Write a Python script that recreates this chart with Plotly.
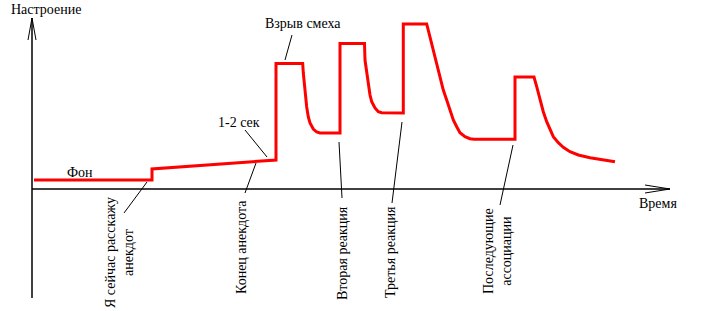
import plotly.graph_objects as go

# Mood curve (time, mood), origin at the axes' crossing
time = [2, 120, 120, 244, 244, 270.7, 271.3, 273, 274.7, 276.3, 278, 281.3, 284.7, 288, 308,
        308, 332.5, 333, 334.7, 336.3, 338, 339.7, 343, 346.3, 349.7, 371.3,
        371.3, 394.7, 398, 401.3, 404.7, 408, 411.3, 414.7, 418, 421.3, 424.7, 428, 433, 438, 442, 483,
        483, 502, 504.7, 508, 511.3, 514.7, 518, 521.3, 526.3, 531.3, 538, 546.3, 558, 571.3, 583]
mood = [9, 9, 20, 29, 125.5, 125.5, 116, 96, 82, 72, 66, 60, 57, 56, 56,
        145.5, 145.5, 129, 116, 102.3, 94, 87.3, 81, 77.3, 76.3, 76,
        165, 165, 152.3, 139, 125.7, 112.3, 99, 89, 79, 69, 62.3, 56.3, 52.3, 50.3, 49.7, 49.7,
        112, 112, 102.3, 89, 77.3, 67.3, 59, 52.3, 46.3, 41.7, 37.3, 34, 31.3, 29, 27.3]

# Leader lines: (t0, m0, t1, m1)
leaders = [
    (115, 7, 92, -24),
    (224, 26, 213, -4),
    (213, 59, 235, 32),
    (260, 154, 253, 129),
    (307, 47, 310, -9),
    (370, 67, 360, -14),
    (481, 44, 468, -16),
]

# Labels: (t, m, text, angle)
labels = [
    (48, 17, "Фон", 0),
    (87, -64, "Я сейчас расскажу<br>анекдот", -90),
    (209, -58, "Конец анекдота", -90),
    (207, 67, "1-2 сек", 0),
    (271, 166, "Взрыв смеха", 0),
    (310, -64, "Вторая реакция", -90),
    (358, -63, "Третья реакция", -90),
    (465, -62, "Последующие<br>ассоциации", -90),
    (14, 180, "Настроение", 0),
    (626, -14, "Время", 0),
]

# Axes (t, m)
yaxis_t = [0, 0]
yaxis_m = [171, -109]
xaxis_t = [0, 638]
xaxis_m = [0, 0]
yarrow_t = [-4, 0, 4]
yarrow_m = [149, 171, 149]
xarrow_t = [613, 638, 613]
xarrow_m = [4, 0, -4]

fig = go.Figure()
black = dict(color="black", width=1.5)
fig.add_trace(go.Scatter(x=yaxis_t, y=yaxis_m, mode="lines", line=black, hoverinfo="skip"))
fig.add_trace(go.Scatter(x=xaxis_t, y=xaxis_m, mode="lines", line=black, hoverinfo="skip"))
fig.add_trace(go.Scatter(x=yarrow_t, y=yarrow_m, mode="lines", line=dict(color="black", width=1), hoverinfo="skip"))
fig.add_trace(go.Scatter(x=xarrow_t, y=xarrow_m, mode="lines", line=dict(color="black", width=1), hoverinfo="skip"))
for t0, m0, t1, m1 in leaders:
    fig.add_trace(go.Scatter(x=[t0, t1], y=[m0, m1], mode="lines",
                             line=dict(color="black", width=1), hoverinfo="skip"))
fig.add_trace(go.Scatter(x=time, y=mood, mode="lines", line=dict(color="#ff0000", width=3), hoverinfo="skip"))

for t, m, txt, ang in labels:
    fig.add_annotation(x=t, y=m, text=txt, textangle=ang, showarrow=False,
                       font=dict(family="'Liberation Serif', 'DejaVu Serif', serif", size=14, color="black"),
                       align="center", xanchor="center", yanchor="middle")

fig.update_layout(
    width=701, height=311,
    margin=dict(l=0, r=0, t=0, b=0),
    paper_bgcolor="white", plot_bgcolor="white",
    font=dict(family="'Liberation Serif', 'DejaVu Serif', serif"),
    showlegend=False,
    xaxis=dict(range=[-32, 669], visible=False, fixedrange=True),
    yaxis=dict(range=[-122, 189], visible=False, fixedrange=True),
)
fig.write_html("out.html")
